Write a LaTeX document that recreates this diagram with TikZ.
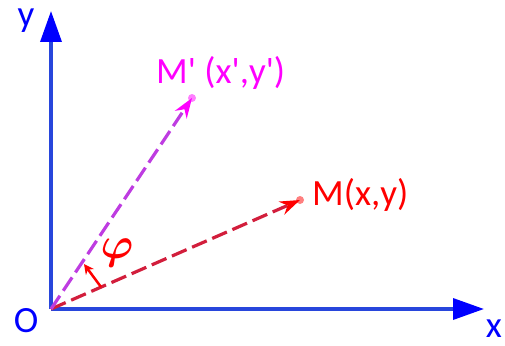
\documentclass[tikz,border=0pt]{standalone}
\usepackage{amsmath}
\usepackage{fontspec}
\setmainfont[Ligatures=TeXOff]{Carlito}
\usetikzlibrary{arrows.meta}
\definecolor{axisblue}{RGB}{40,70,220}
\definecolor{tipblue}{RGB}{0,0,255}
\definecolor{vred}{RGB}{210,30,60}
\definecolor{vpurple}{RGB}{190,60,225}
\definecolor{mag}{RGB}{255,0,255}
\definecolor{lred}{RGB}{255,0,0}
\begin{document}
\begin{tikzpicture}[x=1pt,y=-1pt,
  axis/.style={draw=axisblue,line width=3.5pt,-{Triangle[length=31pt,width=21pt,fill=tipblue,color=tipblue]}},
  vec/.style={line width=3.2pt,dash pattern=on 16pt off 6pt},
  lbl/.style={font=\fontsize{37}{37}\selectfont,inner sep=0pt}]
\useasboundingbox (0,0) rectangle (505,345);
\coordinate (O) at (51,309);
\coordinate (X) at (484,309);
\coordinate (Y) at (51,11);
\coordinate (M) at (300,200);
\coordinate (Mp) at (192,98);
\draw[axis] (O) -- (X);
\draw[axis] (O) -- (Y);
\draw[vec,draw=vred,-{Stealth[length=20pt,width=14pt,color=lred]}] (O) -- (M);
\draw[vec,draw=vpurple,-{Stealth[length=20pt,width=14pt,color=mag]}] (O) -- (Mp);
\fill[lred,opacity=0.5] (M) circle (4);
\fill[mag,opacity=0.5] (Mp) circle (4);
\coordinate (a1) at (101,287);
\coordinate (a2) at (84,264);
\draw[lred,line width=2.5pt,-{Stealth[length=10pt,width=10pt]}] (a1) -- (a2);
\node[lbl,text=tipblue,anchor=base] (ol) at (26,332) {O};
\node[lbl,text=tipblue,anchor=base] (xl) at (494,337) {x};
\node[lbl,text=tipblue,anchor=base] (yl) at (26,27) {y};
\node[lbl,text=lred,anchor=base west] (ml) at (312,205) {M(x,y)};
\node[lbl,text=mag,anchor=base west] (mpl) at (156,83) {M' (x',y')};
\node[text=lred,inner sep=0pt] (phi) at (117,253) {\scalebox{4.4}{$\boldsymbol{\varphi}$}};
\end{tikzpicture}
\end{document}
